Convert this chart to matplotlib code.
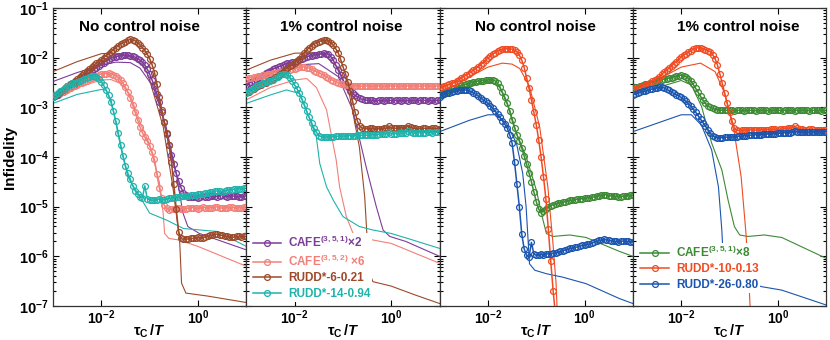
import numpy as np
import matplotlib
matplotlib.use("Agg")
import matplotlib.pyplot as plt
from matplotlib.ticker import FixedLocator, NullLocator, LogLocator, FuncFormatter, NullFormatter

plt.rcParams['font.family'] = ['Liberation Sans', 'DejaVu Sans']
plt.rcParams['font.weight'] = 'bold'
plt.rcParams['mathtext.fontset'] = 'custom'
plt.rcParams['mathtext.rm'] = 'Liberation Sans'
plt.rcParams['mathtext.bf'] = 'Liberation Sans:bold'
plt.rcParams['mathtext.it'] = 'Liberation Sans:italic:bold'

# log10(tau_c / T) of the simulated points
LOG_TAU = [-3.00, -2.95, -2.90, -2.85, -2.80, -2.75, -2.70, -2.65, -2.60, -2.55,
           -2.50, -2.45, -2.40, -2.35, -2.30, -2.25, -2.20, -2.15, -2.10, -2.05,
           -2.00, -1.95, -1.90, -1.85, -1.80, -1.75, -1.70, -1.65, -1.60, -1.55,
           -1.50, -1.45, -1.40, -1.35, -1.30, -1.25, -1.20, -1.15, -1.10, -1.05,
           -1.00, -0.95, -0.90, -0.85, -0.80, -0.75, -0.70, -0.65, -0.60, -0.55,
           -0.50, -0.45, -0.40, -0.35, -0.30, -0.25, -0.20, -0.15, -0.10, -0.05,
           0.00, 0.05, 0.10, 0.15, 0.20, 0.25, 0.30, 0.35, 0.40, 0.45,
           0.50, 0.55, 0.60, 0.65, 0.70, 0.75, 0.80, 0.85, 0.90, 0.95,
           1.00]

nan = np.nan

# ---- simulated infidelity, log10 values (markers) ----
# panel 1: no control noise
P1_PURPLE = [-2.80, -2.78, -2.75, -2.72, -2.70, -2.66, -2.64, -2.61, -2.58, -2.54,
             -2.50, -2.46, -2.42, -2.39, -2.36, -2.31, -2.28, -2.23, -2.20, -2.16,
             -2.13, -2.10, -2.07, -2.04, -2.01, -1.99, -1.98, -1.97, -1.96, -1.95,
             -1.95, -1.95, -1.96, -1.97, -1.99, -2.02, -2.05, -2.09, -2.15, -2.23,
             -2.33, -2.45, -2.58, -2.73, -2.90, -3.10, -3.30, -3.53, -3.75, -3.96,
             -4.15, -4.33, -4.48, -4.62, -4.72, -4.77, -4.80, -4.81, -4.80, -4.81,
             -4.82, -4.80, -4.79, -4.80, -4.81, -4.79, -4.78, -4.79, -4.80, -4.78,
             -4.77, -4.79, -4.80, -4.79, -4.78, -4.79, -4.79, -4.80, -4.80, -4.79,
             -4.78]
P1_SALMON = [-2.79, -2.76, -2.74, -2.72, -2.70, -2.67, -2.65, -2.62, -2.60, -2.57,
             -2.55, -2.52, -2.50, -2.48, -2.46, -2.43, -2.41, -2.38, -2.36, -2.34,
             -2.33, -2.32, -2.32, -2.31, -2.32, -2.34, -2.36, -2.40, -2.45, -2.52,
             -2.60, -2.70, -2.82, -2.96, -3.10, -3.25, -3.40, -3.51, -3.60, -3.68,
             -3.78, -3.90, -4.05, -4.35, -4.62, -4.82, -4.97, -5.03, -5.06, -5.05,
             -5.04, -5.03, -5.02, -5.04, -5.05, -5.04, -5.03, -5.02, -5.02, -5.03,
             -5.04, -5.02, -5.01, -5.02, -5.03, -5.02, -5.02, -5.01, -5.00, -5.02,
             -5.03, -5.02, -5.02, -5.01, -5.01, -5.02, -5.03, -5.02, -5.02, -5.01,
             -5.01]
P1_BROWN = [-2.80, -2.77, -2.74, -2.70, -2.66, -2.62, -2.58, -2.54, -2.50, -2.46,
            -2.42, -2.38, -2.35, -2.31, -2.27, -2.23, -2.19, -2.15, -2.11, -2.08,
            -2.04, -2.00, -1.96, -1.92, -1.88, -1.84, -1.80, -1.76, -1.72, -1.70,
            -1.68, -1.65, -1.63, -1.64, -1.66, -1.70, -1.74, -1.80, -1.86, -1.93,
            -2.02, -2.14, -2.30, -2.53, -2.80, -3.05, -3.30, -3.52, -3.75, -4.10,
            -4.55, -5.05, -5.50, -5.64, -5.66, -5.65, -5.65, -5.64, -5.64, -5.63,
            -5.62, -5.63, -5.63, -5.61, -5.60, -5.58, -5.57, -5.56, -5.55, -5.57,
            -5.58, -5.59, -5.60, -5.61, -5.62, -5.61, -5.60, -5.60, -5.61, -5.60,
            -5.60]
P1_TEAL = [-2.79, -2.75, -2.72, -2.68, -2.65, -2.61, -2.58, -2.55, -2.52, -2.50,
           -2.48, -2.46, -2.44, -2.42, -2.41, -2.39, -2.37, -2.36, -2.38, -2.42,
           -2.48, -2.56, -2.65, -2.76, -2.90, -3.08, -3.28, -3.52, -3.75, -3.98,
           -4.18, -4.33, -4.45, -4.58, -4.68, -4.75, -4.80, -4.82, -4.58, -4.84,
           -4.86, -4.87, -4.87, -4.86, -4.85, -4.86, -4.86, -4.85, -4.83, -4.83,
           -4.82, -4.81, -4.80, -4.79, -4.78, -4.79, -4.79, -4.77, -4.76, -4.76,
           -4.75, -4.75, -4.74, -4.73, -4.72, -4.71, -4.70, -4.69, -4.68, -4.69,
           -4.70, -4.68, -4.67, -4.66, -4.66, -4.65, -4.65, -4.64, -4.64, -4.63,
           -4.63]

# panel 2: 1% control noise
P2_PURPLE = [-2.55, -2.52, -2.49, -2.46, -2.43, -2.40, -2.37, -2.34, -2.31, -2.28,
             -2.26, -2.23, -2.21, -2.19, -2.17, -2.15, -2.13, -2.11, -2.10, -2.09,
             -2.08, -2.06, -2.04, -2.02, -2.00, -1.98, -1.97, -1.96, -1.95, -1.94,
             -1.93, -1.92, -1.91, -1.92, -1.93, -1.98, -2.05, -2.15, -2.25, -2.35,
             -2.45, -2.53, -2.60, -2.66, -2.72, -2.76, -2.79, -2.82, -2.84, -2.85,
             -2.86, -2.86, -2.86, -2.87, -2.87, -2.86, -2.86, -2.87, -2.86, -2.86,
             -2.86, -2.87, -2.86, -2.86, -2.87, -2.86, -2.86, -2.87, -2.86, -2.86,
             -2.86, -2.87, -2.86, -2.86, -2.86, -2.87, -2.86, -2.86, -2.87, -2.86,
             -2.86]
P2_SALMON = [-2.42, -2.41, -2.40, -2.39, -2.38, -2.37, -2.36, -2.35, -2.34, -2.33,
             -2.32, -2.31, -2.30, -2.29, -2.28, -2.27, -2.26, -2.25, -2.24, -2.23,
             -2.22, -2.20, -2.19, -2.18, -2.19, -2.20, -2.21, -2.23, -2.26, -2.28,
             -2.30, -2.33, -2.35, -2.38, -2.41, -2.44, -2.46, -2.49, -2.51, -2.53,
             -2.54, -2.55, -2.56, -2.57, -2.57, -2.57, -2.57, -2.57, -2.58, -2.57,
             -2.57, -2.57, -2.58, -2.57, -2.57, -2.57, -2.57, -2.58, -2.57, -2.57,
             -2.57, -2.57, -2.57, -2.58, -2.57, -2.57, -2.57, -2.57, -2.58, -2.57,
             -2.57, -2.57, -2.58, -2.57, -2.57, -2.57, -2.57, -2.58, -2.57, -2.57,
             -2.57]
P2_BROWN = [-2.72, -2.69, -2.66, -2.63, -2.60, -2.57, -2.55, -2.52, -2.50, -2.47,
            -2.45, -2.42, -2.39, -2.36, -2.32, -2.28, -2.24, -2.20, -2.17, -2.14,
            -2.11, -2.07, -2.02, -1.96, -1.90, -1.85, -1.80, -1.76, -1.72, -1.70,
            -1.68, -1.66, -1.64, -1.65, -1.66, -1.70, -1.75, -1.82, -1.90, -2.03,
            -2.18, -2.32, -2.48, -2.68, -2.88, -3.10, -3.28, -3.38, -3.42, -3.43,
            -3.43, -3.42, -3.42, -3.43, -3.44, -3.43, -3.43, -3.42, -3.42, -3.38,
            -3.42, -3.42, -3.42, -3.41, -3.41, -3.42, -3.42, -3.37, -3.40, -3.42,
            -3.42, -3.43, -3.43, -3.42, -3.42, -3.43, -3.43, -3.42, -3.42, -3.43,
            -3.43]
P2_TEAL = [-2.72, -2.68, -2.65, -2.61, -2.58, -2.55, -2.53, -2.51, -2.49, -2.47,
           -2.46, -2.44, -2.41, -2.38, -2.35, -2.33, -2.33, -2.35, -2.40, -2.47,
           -2.55, -2.63, -2.72, -2.83, -2.95, -3.08, -3.20, -3.31, -3.42, -3.50,
           -3.57, -3.59, -3.60, -3.60, -3.59, -3.59, -3.59, -3.58, -3.58, -3.58,
           -3.58, -3.58, -3.57, -3.57, -3.57, -3.57, -3.56, -3.56, -3.56, -3.56,
           -3.56, -3.55, -3.55, -3.55, -3.55, -3.54, -3.54, -3.54, -3.53, -3.50,
           -3.53, -3.53, -3.53, -3.52, -3.52, -3.52, -3.51, -3.48, -3.50, -3.52,
           -3.52, -3.51, -3.51, -3.51, -3.51, -3.50, -3.50, -3.51, -3.50, -3.50,
           -3.50]

# panel 3: no control noise
P3_GREEN = [-2.75, -2.73, -2.71, -2.69, -2.67, -2.64, -2.62, -2.60, -2.58, -2.56,
            -2.55, -2.53, -2.52, -2.50, -2.49, -2.48, -2.47, -2.47, -2.46, -2.45,
            -2.45, -2.44, -2.44, -2.47, -2.52, -2.60, -2.70, -2.80, -2.92, -3.08,
            -3.26, -3.41, -3.55, -3.68, -3.82, -3.98, -4.15, -4.32, -4.50, -4.70,
            -4.90, -5.05, -5.12, -5.09, -5.05, -5.01, -4.98, -4.96, -4.95, -4.93,
            -4.92, -4.91, -4.90, -4.88, -4.87, -4.87, -4.86, -4.85, -4.84, -4.84,
            -4.83, -4.82, -4.82, -4.81, -4.80, -4.79, -4.78, -4.77, -4.76, -4.76,
            -4.79, -4.78, -4.78, -4.79, -4.80, -4.80, -4.79, -4.78, -4.78, -4.77,
            -4.77]
P3_RED = [-2.62, -2.60, -2.58, -2.56, -2.54, -2.52, -2.50, -2.47, -2.44, -2.41,
          -2.38, -2.35, -2.32, -2.29, -2.25, -2.22, -2.18, -2.14, -2.10, -2.05,
          -2.01, -1.97, -1.93, -1.90, -1.87, -1.85, -1.83, -1.82, -1.82, -1.82,
          -1.83, -1.85, -1.88, -1.95, -2.05, -2.20, -2.40, -2.62, -2.85, -3.10,
          -3.35, -3.65, -4.00, -4.40, -4.85, -5.45, -6.10, -6.70, -7.20, nan,
          nan, nan, nan, nan, nan, nan, nan, nan, nan, nan,
          nan, nan, nan, nan, nan, nan, nan, nan, nan, nan,
          nan, nan, nan, nan, nan, nan, nan, nan, nan, nan,
          nan]
P3_BLUE = [-2.79, -2.76, -2.74, -2.72, -2.71, -2.69, -2.68, -2.67, -2.66, -2.65,
           -2.65, -2.65, -2.66, -2.68, -2.71, -2.74, -2.77, -2.81, -2.85, -2.88,
           -2.92, -2.97, -3.02, -3.08, -3.14, -3.20, -3.27, -3.34, -3.42, -3.55,
           -3.72, -4.10, -4.55, -5.00, -5.55, -5.85, -5.98, -6.02, -5.72, -5.95,
           -5.98, -5.97, -5.96, -5.97, -5.95, -5.95, -5.95, -5.94, -5.93, -5.92,
           -5.90, -5.89, -5.87, -5.86, -5.84, -5.83, -5.82, -5.81, -5.80, -5.78,
           -5.77, -5.76, -5.75, -5.73, -5.72, -5.70, -5.68, -5.67, -5.66, -5.67,
           -5.68, -5.69, -5.70, -5.70, -5.71, -5.70, -5.69, -5.70, -5.70, -5.71,
           -5.71]

# panel 4: 1% control noise
P4_GREEN = [-2.62, -2.60, -2.59, -2.57, -2.56, -2.54, -2.53, -2.51, -2.50, -2.48,
            -2.47, -2.45, -2.44, -2.43, -2.42, -2.41, -2.40, -2.38, -2.37, -2.36,
            -2.35, -2.36, -2.38, -2.42, -2.47, -2.54, -2.62, -2.70, -2.78, -2.86,
            -2.92, -2.97, -3.00, -3.02, -3.04, -3.05, -3.05, -3.06, -3.06, -3.06,
            -3.06, -3.06, -3.07, -3.06, -3.06, -3.06, -3.07, -3.06, -3.06, -3.06,
            -3.06, -3.07, -3.06, -3.06, -3.06, -3.06, -3.07, -3.06, -3.06, -3.06,
            -3.06, -3.06, -3.07, -3.06, -3.06, -3.06, -3.06, -3.07, -3.06, -3.06,
            -3.06, -3.06, -3.06, -3.07, -3.06, -3.06, -3.06, -3.06, -3.07, -3.06,
            -3.06]
P4_RED = [-2.65, -2.63, -2.62, -2.60, -2.58, -2.55, -2.53, -2.50, -2.47, -2.45,
          -2.42, -2.38, -2.33, -2.29, -2.25, -2.21, -2.17, -2.12, -2.08, -2.03,
          -1.99, -1.95, -1.92, -1.89, -1.86, -1.83, -1.81, -1.80, -1.80, -1.82,
          -1.84, -1.86, -1.88, -1.94, -2.02, -2.15, -2.33, -2.52, -2.72, -2.91,
          -3.10, -3.27, -3.42, -3.46, -3.47, -3.46, -3.46, -3.46, -3.46, -3.45,
          -3.45, -3.46, -3.46, -3.45, -3.45, -3.45, -3.45, -3.44, -3.44, -3.44,
          -3.45, -3.44, -3.44, -3.43, -3.42, -3.42, -3.41, -3.38, -3.42, -3.43,
          -3.44, -3.45, -3.45, -3.44, -3.44, -3.45, -3.45, -3.45, -3.45, -3.45,
          -3.45]
P4_BLUE = [-2.75, -2.73, -2.71, -2.70, -2.68, -2.67, -2.66, -2.64, -2.63, -2.62,
           -2.61, -2.60, -2.60, -2.61, -2.64, -2.66, -2.69, -2.72, -2.75, -2.77,
           -2.80, -2.84, -2.88, -2.93, -2.98, -3.04, -3.10, -3.17, -3.24, -3.31,
           -3.38, -3.45, -3.52, -3.57, -3.60, -3.61, -3.61, -3.61, -3.60, -3.60,
           -3.60, -3.60, -3.59, -3.59, -3.58, -3.58, -3.57, -3.57, -3.56, -3.56,
           -3.56, -3.55, -3.55, -3.55, -3.54, -3.54, -3.54, -3.53, -3.53, -3.53,
           -3.52, -3.52, -3.52, -3.51, -3.51, -3.51, -3.50, -3.48, -3.50, -3.50,
           -3.50, -3.49, -3.49, -3.50, -3.50, -3.49, -3.49, -3.49, -3.49, -3.49,
           -3.49]

# ---- theory curves, (log10 tau_c/T, log10 infidelity) ----
T1_PURPLE = [(-3, -2.48), (-2.5, -2.30), (-2, -2.15), (-1.7, -2.09), (-1.4, -2.10), (-1.2, -2.21),
             (-0.93, -2.58), (-0.8, -2.95), (-0.66, -3.39), (-0.45, -4.33), (-0.31, -5.13),
             (-0.21, -5.40), (0.03, -5.54), (0.5, -5.70), (1.0, -5.87)]
T1_SALMON = [(-3, -2.85), (-2.5, -2.60), (-2.0, -2.45), (-1.8, -2.44), (-1.6, -2.52), (-1.4, -2.75),
             (-1.2, -3.30), (-1.0, -3.75), (-0.8, -4.50), (-0.72, -5.13), (-0.69, -5.54),
             (-0.6, -5.64), (-0.4, -5.67), (0.0, -5.80), (0.5, -6.00), (1.0, -6.20)]
T1_BROWN = [(-3, -2.28), (-2.5, -2.08), (-2.0, -1.92), (-1.8, -1.91), (-1.5, -1.95), (-1.3, -2.02),
            (-1.1, -2.20), (-1.0, -2.45), (-0.72, -3.39), (-0.52, -4.60), (-0.38, -5.67),
            (-0.34, -6.54), (-0.25, -6.74), (0.2, -6.80), (1.0, -6.93)]
T1_TEAL = [(-3, -2.92), (-2.5, -2.74), (-2.0, -2.64), (-1.9, -2.66), (-1.8, -2.85), (-1.7, -3.30),
           (-1.6, -3.80), (-1.5, -4.20), (-1.45, -4.40), (-1.3, -4.65), (-1.2, -4.80),
           (-1.0, -5.13), (-0.65, -5.27), (-0.3, -5.44), (0.4, -5.50), (1.0, -5.80)]

T2_PURPLE = [(-3, -2.48), (-2, -2.15), (-1.5, -2.12), (-1.1, -2.38), (-0.8, -3.05), (-0.52, -4.20),
             (-0.31, -5.00), (-0.17, -5.47), (-0.03, -5.60), (0.3, -5.70), (1.0, -6.00)]
T2_SALMON = [(-3, -2.85), (-2.5, -2.60), (-2, -2.45), (-1.75, -2.42), (-1.55, -2.60), (-1.34, -3.05),
             (-1.14, -4.06), (-1.07, -4.60), (-0.93, -5.20), (-0.79, -5.54), (-0.66, -5.62),
             (0.0, -5.74), (1.0, -6.14)]
T2_BROWN = [(-3, -2.25), (-2.5, -2.05), (-2.0, -1.91), (-1.6, -1.90), (-1.4, -1.94), (-1.1, -2.20),
            (-0.86, -2.77), (-0.66, -3.80), (-0.55, -4.80), (-0.49, -5.80), (-0.45, -6.34),
            (-0.38, -6.51), (0.0, -6.60), (0.5, -6.78), (1.0, -6.95)]
T2_TEAL = [(-3, -2.92), (-2.5, -2.75), (-2.17, -2.65), (-1.9, -2.72), (-1.76, -3.05), (-1.55, -3.60),
           (-1.48, -4.13), (-1.34, -4.60), (-1.2, -4.87), (-1.0, -5.20), (-0.66, -5.40),
           (-0.38, -5.47), (0.0, -5.54), (0.34, -5.64), (1.0, -5.84)]

T3_GREEN = [(-3, -2.75), (-2.38, -2.55), (-2.0, -2.48), (-1.76, -2.58), (-1.55, -3.05), (-1.41, -3.52),
            (-1.21, -3.99), (-1.0, -4.66), (-0.86, -5.27), (-0.79, -5.54), (-0.66, -5.60),
            (-0.31, -5.57), (0.03, -5.62), (0.72, -5.90), (1.0, -6.00)]
T3_RED = [(-3, -2.59), (-2.5, -2.45), (-2.0, -2.19), (-1.7, -2.11), (-1.5, -2.13), (-1.34, -2.22),
          (-1.14, -2.58), (-0.93, -3.39), (-0.76, -4.60), (-0.66, -5.67), (-0.59, -6.54), (-0.55, -7.50)]
T3_BLUE = [(-3, -3.49), (-2.38, -3.26), (-2.0, -3.15), (-1.83, -3.15), (-1.62, -3.32), (-1.41, -3.72),
           (-1.28, -4.33), (-1.21, -5.00), (-1.14, -6.15), (-1.03, -6.28), (-0.79, -6.35),
           (-0.45, -6.42), (0.03, -6.55), (0.72, -6.85), (1.0, -6.95)]

T4_GREEN = [(-3, -2.75), (-2, -2.46), (-1.79, -2.55), (-1.58, -2.98), (-1.37, -3.72), (-1.16, -4.26),
            (-1.03, -4.87), (-0.9, -5.40), (-0.79, -5.57), (-0.62, -5.60), (-0.28, -5.57),
            (0.08, -5.62), (1.0, -6.04)]
T4_RED = [(-3, -2.62), (-2.5, -2.45), (-2.0, -2.19), (-1.6, -2.11), (-1.3, -2.28), (-1.1, -2.72),
          (-0.9, -3.52), (-0.76, -4.40), (-0.66, -5.54), (-0.6, -6.50), (-0.55, -7.50)]
T4_BLUE = [(-3, -3.49), (-2, -3.15), (-1.79, -3.15), (-1.58, -3.36), (-1.37, -3.86), (-1.23, -4.60),
           (-1.16, -5.47), (-1.12, -6.25), (-0.8, -6.45), (-0.34, -6.61), (0.08, -6.68), (1.0, -6.98)]

PURPLE = '#7d3c98'
SALMON = '#f28079'
BROWN = '#9c4a2a'
TEAL = '#1fb3ab'
GREEN = '#3c8a34'
RED = '#f04b22'
BLUE = '#1b55ae'

LABELS_A = [r'CAFE$^{\mathrm{(3,5,1)}}$×2', r'CAFE$^{\mathrm{(3,5,2)}}$ ×6', 'RUDD*-6-0.21', 'RUDD*-14-0.94']
LABELS_B = [r'CAFE$^{\mathrm{(3,5,1)}}$×8', 'RUDD*-10-0.13', 'RUDD*-26-0.80']

panels = [
    dict(title='No control noise', tx=0.445,
         marks=[P1_PURPLE, P1_SALMON, P1_BROWN, P1_TEAL],
         theory=[T1_PURPLE, T1_SALMON, T1_BROWN, T1_TEAL],
         colors=[PURPLE, SALMON, BROWN, TEAL], labels=None),
    dict(title='1% control noise', tx=0.49,
         marks=[P2_PURPLE, P2_SALMON, P2_BROWN, P2_TEAL],
         theory=[T2_PURPLE, T2_SALMON, T2_BROWN, T2_TEAL],
         colors=[PURPLE, SALMON, BROWN, TEAL], labels=LABELS_A, leg=(0.025, 0.015)),
    dict(title='No control noise', tx=0.497,
         marks=[P3_GREEN, P3_RED, P3_BLUE],
         theory=[T3_GREEN, T3_RED, T3_BLUE],
         colors=[GREEN, RED, BLUE], labels=None),
    dict(title='1% control noise', tx=0.543,
         marks=[P4_GREEN, P4_RED, P4_BLUE],
         theory=[T4_GREEN, T4_RED, T4_BLUE],
         colors=[GREEN, RED, BLUE], labels=LABELS_B, leg=(0.03, 0.045)),
]

fig = plt.figure(figsize=(8.3, 3.4), dpi=100)

x_pts = 10 ** np.array(LOG_TAU)
left, width = 53 / 830, 193.3 / 830
bottom, height = 34 / 340, 298 / 340

def dec_fmt(v, pos):
    return r'$\mathbf{10^{%d}}$' % int(round(np.log10(v)))

for i, p in enumerate(panels):
    ax = fig.add_axes([left + i * width, bottom, width, height])
    for th, c in zip(p['theory'], p['colors']):
        th = np.array(th)
        ax.plot(10 ** th[:, 0], 10 ** th[:, 1], color=c, lw=0.8, zorder=2)
    labels = p['labels'] or [None] * len(p['marks'])
    for m, c, lab in zip(p['marks'], p['colors'], labels):
        ax.plot(x_pts, 10 ** np.array(m), '-o', color=c, mfc='none', ms=4.2, mew=0.9,
                lw=1.1, label=lab, zorder=3)

    ax.set_xscale('log')
    ax.set_yscale('log')
    ax.set_xlim(1e-3, 1e1)
    ax.set_ylim(1e-7, 1e-1)
    ax.xaxis.set_major_locator(FixedLocator([1e-2, 1e0]))
    ax.xaxis.set_minor_locator(NullLocator())
    ax.xaxis.set_major_formatter(FuncFormatter(dec_fmt))
    ax.yaxis.set_major_locator(FixedLocator([1e-7, 1e-6, 1e-5, 1e-4, 1e-3, 1e-2, 1e-1]))
    ax.yaxis.set_minor_locator(LogLocator(base=10, subs=np.arange(2, 10), numticks=10))
    ax.yaxis.set_minor_formatter(NullFormatter())
    if i == 0:
        ax.yaxis.set_major_formatter(FuncFormatter(dec_fmt))
        ax.set_ylabel('Infidelity', fontsize=11, fontweight='bold', labelpad=1)
    else:
        ax.yaxis.set_major_formatter(NullFormatter())
    ax.tick_params(which='both', direction='in', top=True, right=True, labelsize=10.5, width=0.8)
    ax.tick_params(which='major', length=4)
    ax.tick_params(axis='x', which='major', pad=1.5, labelsize=10)
    ax.tick_params(axis='y', which='major', pad=3)
    ax.tick_params(which='minor', length=2)
    for s in ax.spines.values():
        s.set_linewidth(0.9)
        s.set_color('#333333')
    ax.set_xlabel(r'$\mathbf{\tau_{C}\,/}\mathit{T}$', fontsize=10.5, labelpad=-3)
    ax.text(p['tx'], 0.936, p['title'], transform=ax.transAxes, ha='center', va='center',
            fontsize=11, fontweight='bold')
    if p['labels']:
        ax.legend(loc='lower left', bbox_to_anchor=p['leg'], fontsize=8.5, handlelength=2.4,
                  handletextpad=0.6, labelspacing=0.3, borderpad=0.15, borderaxespad=0,
                  frameon=True, facecolor='white', edgecolor='none', framealpha=1,
                  fancybox=False, labelcolor='linecolor')

fig.savefig('out.png', dpi=100)
